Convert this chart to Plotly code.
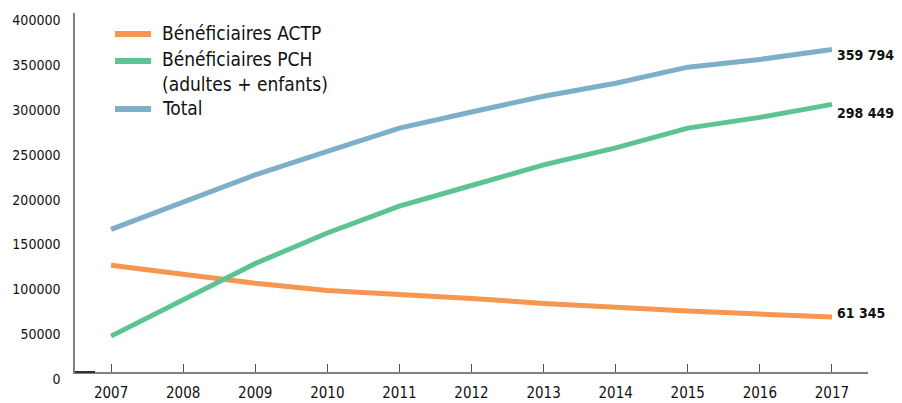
import plotly.graph_objects as go

years = [2007, 2008, 2009, 2010, 2011, 2012, 2013, 2014, 2015, 2016, 2017]
actp = [119000, 109000, 99000, 91000, 87000, 82000, 76500, 72000, 68000, 64600, 61345]
pch = [40000, 80000, 121000, 155000, 185000, 208000, 231000, 250000, 272000, 284000, 298449]
total = [159000, 189000, 220000, 246000, 272000, 290000, 307500, 322000, 340000, 348600, 359794]

series_names = ["Bénéficiaires ACTP", "Bénéficiaires PCH<br>(adultes + enfants)", "Total"]
series_values = [actp, pch, total]
colors = ["#F7964F", "#5DC393", "#7DAFC8"]

y_ticks = [0, 50000, 100000, 150000, 200000, 250000, 300000, 350000, 400000]

FONT = "DejaVu Sans Condensed"

# the page body has an 8px margin, so the figure is offset by (8, 8)
OFF = 8

fig = go.Figure()
for name, vals, col in zip(series_names, series_values, colors):
    fig.add_trace(go.Scatter(x=years, y=vals, mode="lines", name=name,
                             line=dict(color=col, width=5), showlegend=False,
                             hoverinfo="skip"))

def fmt(v):
    return f"{v:,}".replace(",", " ")

end_shifts = [4, -9, -6]
for vals, ys in zip(series_values, end_shifts):
    fig.add_annotation(x=years[-1], y=vals[-1], text="<b>" + fmt(vals[-1]) + "</b>",
                       showarrow=False, xanchor="left", yanchor="middle",
                       xshift=3, yshift=ys,
                       font=dict(family=FONT, size=14, color="#111"))

# plot area in page pixels
L, T, W, H = 75, 13, 793, 359
def px_x(p):
    return (p - L) / W
def px_y(p):
    return (T + H - p) / H

legend_rows = [34, 61, 109]
legend_text_y = [33, 72, 108]
for name, col, ly, ty in zip(series_names, colors, legend_rows, legend_text_y):
    fig.add_shape(type="line", xref="paper", yref="paper",
                  x0=px_x(115), x1=px_x(151), y0=px_y(ly), y1=px_y(ly),
                  line=dict(color=col, width=6), layer="above")
    fig.add_annotation(xref="paper", yref="paper", x=px_x(160), y=px_y(ty),
                       text=name, showarrow=False, xanchor="left", yanchor="middle",
                       align="left", font=dict(family=FONT, size=19, color="#111"))

fig.add_shape(type="line", xref="paper", yref="paper", x0=0, x1=px_x(95), y0=0, y1=0,
              line=dict(color="#333", width=2), layer="above")

fig.update_layout(
    width=902 - OFF, height=403 - OFF,
    margin=dict(l=L - OFF, r=902 - (L + W), t=T - OFF, b=403 - (T + H), autoexpand=False),
    paper_bgcolor="white", plot_bgcolor="white",
    font=dict(family=FONT, color="#111"),
    showlegend=False,
    xaxis=dict(range=[2006.5, 2017.5], tickvals=years, ticktext=[str(y) for y in years],
               showgrid=False, zeroline=False, showline=True, linecolor="#808080",
               linewidth=1.5, ticks="inside", ticklen=8, tickcolor="#555", tickwidth=1,
               tickfont=dict(family=FONT, size=15, color="#111"), ticklabelstandoff=6,
               automargin=False, fixedrange=True),
    yaxis=dict(range=[0, 400400], tickvals=y_ticks, ticktext=[str(v) for v in y_ticks],
               showgrid=False, zeroline=False, showline=True, linecolor="#808080",
               linewidth=1.5, ticks="", ticklabelshift=7, ticklabelstandoff=10,
               tickfont=dict(family=FONT, size=14, color="#111"),
               automargin=False, fixedrange=True),
)

fig.write_html("out.html")
